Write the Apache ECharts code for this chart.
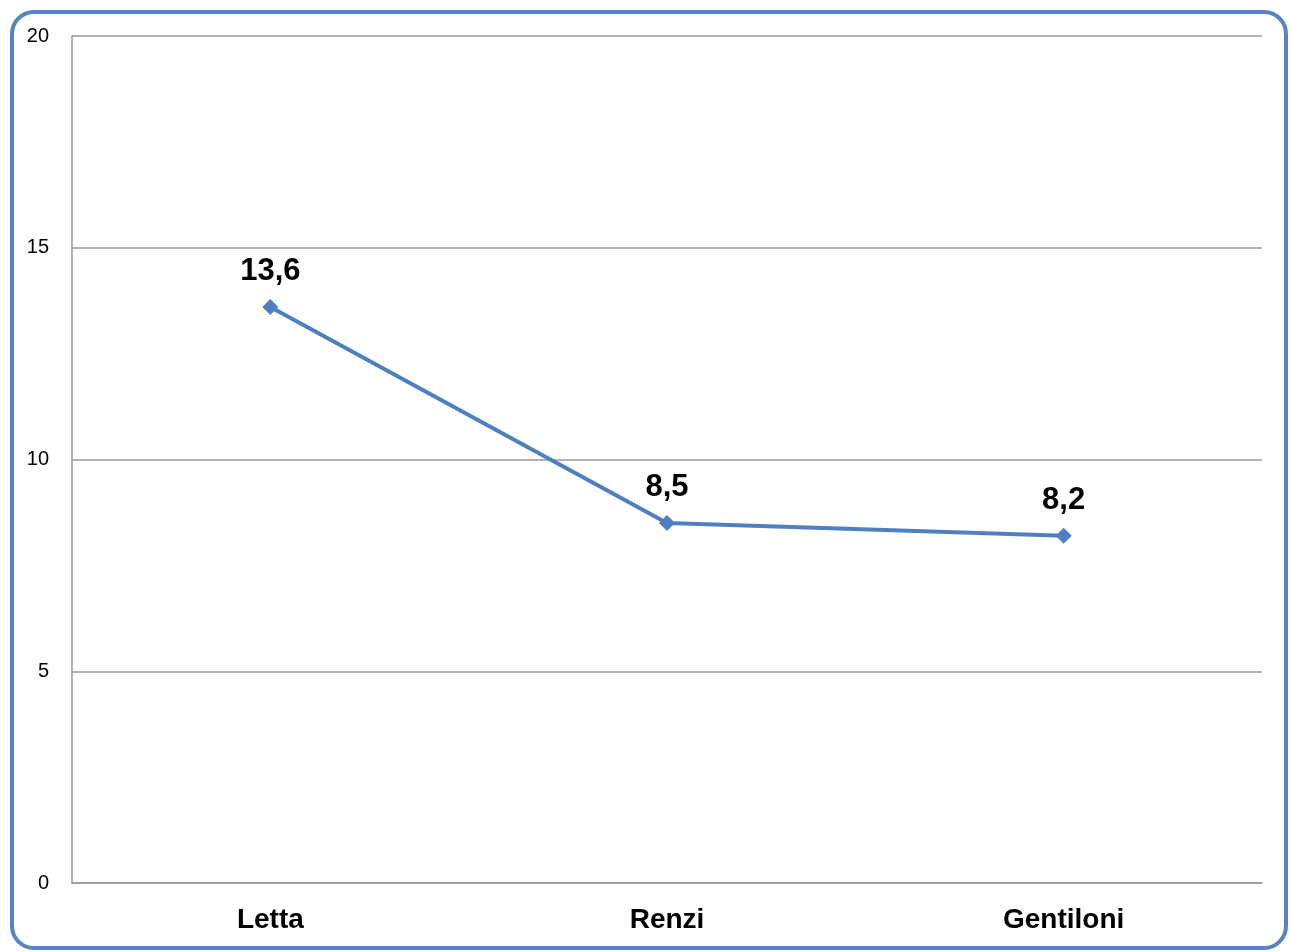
<!DOCTYPE html>
<html><head><meta charset="utf-8">
<script src="https://cdn.jsdelivr.net/npm/echarts@6/dist/echarts.min.js"></script>
<style>html,body{margin:0;padding:0;background:#fff}#c{width:1290px;height:952px}</style>
</head><body><div id="c"></div>
<script>
const categories = ['Letta', 'Renzi', 'Gentiloni'];
const values = [13.6, 8.5, 8.2];
const yTicks = [0, 5, 10, 15, 20];

const chart = echarts.init(document.getElementById('c'), null, {renderer: 'canvas'});
chart.setOption({
  animation: false,
  backgroundColor: '#fff',
  textStyle: {fontFamily: 'Liberation Sans, Arial, sans-serif'},
  graphic: [{
    type: 'rect', z: -1,
    shape: {x: 12, y: 12, width: 1274, height: 936, r: 22},
    style: {fill: 'none', stroke: '#5884c3', lineWidth: 4}
  }],
  grid: {left: 72, right: 28, top: 36, bottom: 69, containLabel: false},
  xAxis: {
    type: 'category', data: categories, boundaryGap: true,
    axisLine: {lineStyle: {color: '#999', width: 1.5}},
    axisTick: {show: false},
    axisLabel: {color: '#000', fontSize: 28, fontWeight: 'bold', margin: 23}
  },
  yAxis: {
    type: 'value', min: yTicks[0], max: yTicks[yTicks.length - 1], interval: 5,
    axisLine: {show: true, lineStyle: {color: '#999', width: 1.5}},
    axisTick: {show: false},
    splitLine: {lineStyle: {color: '#999', width: 1.5}},
    axisLabel: {color: '#000', fontSize: 20, margin: 23,
      formatter: v => String(v)}
  },
  series: [{
    type: 'line', data: values,
    lineStyle: {color: '#4f7fc0', width: 4},
    itemStyle: {color: '#4f7fc0'},
    symbol: 'diamond', symbolSize: 16,
    label: {show: true, position: 'top', distance: 12, color: '#000',
      fontSize: 31, fontWeight: 'bold',
      formatter: p => String(p.value).replace('.', ',')}
  }]
});
</script></body></html>
